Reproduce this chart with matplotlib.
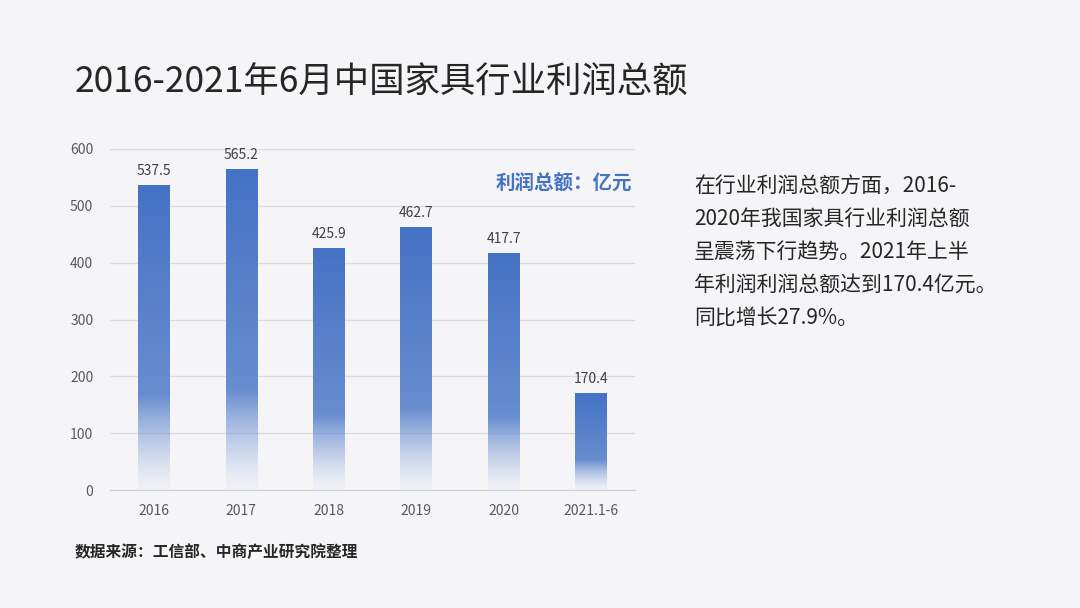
import numpy as np
import matplotlib.pyplot as plt
from matplotlib.colors import to_rgb

plt.rcParams['font.family'] = ['Noto Sans CJK SC', 'DejaVu Sans']

categories = ["2016", "2017", "2018", "2019", "2020", "2021.1-6"]
profits = [537.5, 565.2, 425.9, 462.7, 417.7, 170.4]
yticks = [0, 100, 200, 300, 400, 500, 600]

bg = "#F5F5F8"
blue = "#4472C4"

fig = plt.figure(figsize=(10.8, 6.08), dpi=100, facecolor=bg)
ax = fig.add_axes([110 / 1080, 1 - 490 / 608, 525 / 1080, 341 / 608], facecolor=bg)

x = np.arange(len(categories))
bars = ax.bar(x, profits, width=0.36, color="none", edgecolor="none", zorder=3)

# vertical gradient: solid at top, fading out toward the bottom
n = 256
t = np.linspace(0, 1, n)  # 0 = bottom, 1 = top
alpha = np.clip(0.04 + (t / 0.32) ** 1.3, 0, 1)
shade = (1 - t) * 0.28  # slightly lighter toward the bottom
rgb = np.array(to_rgb(blue))
img = np.zeros((n, 1, 4))
img[:, 0, :3] = rgb + (1 - rgb) * shade[:, None]
img[:, 0, 3] = alpha

for b in bars:
    x0, w, h = b.get_x(), b.get_width(), b.get_height()
    im = ax.imshow(img, extent=(x0, x0 + w, 0, h), origin="lower",
                   aspect="auto", zorder=3, interpolation="bilinear")
    im.set_clip_path(b)
    ax.text(x0 + w / 2, h + 12, f"{h:.1f}", ha="center", va="bottom",
            fontsize=10, color="#404040", zorder=4)

ax.set_xlim(-0.5, len(categories) - 0.5)
ax.set_ylim(0, 600)
ax.set_yticks(yticks)
ax.set_xticks(x)
ax.set_xticklabels(categories)
ax.tick_params(axis="both", length=0, labelsize=10, colors="#595959")
ax.tick_params(axis="x", pad=10)
ax.tick_params(axis="y", pad=12)
ax.grid(axis="y", color="#DCDCE0", linewidth=1, zorder=0)
for s in ["top", "right", "left"]:
    ax.spines[s].set_visible(False)
ax.spines["bottom"].set_color("#D0D0D4")

fig.text(75 / 1080, 1 - 83 / 608, "2016-2021年6月中国家具行业利润总额",
         fontsize=25.5, color="#262626", va="center", ha="left")
fig.text(632 / 1080, 1 - 183 / 608, "利润总额：亿元", fontsize=14,
         fontweight="bold", color=blue, va="center", ha="right")

body = ["在行业利润总额方面，2016-",
        "2020年我国家具行业利润总额",
        "呈震荡下行趋势。2021年上半",
        "年利润利润总额达到170.4亿元。",
        "同比增长27.9%。"]
for i, line in enumerate(body):
    fig.text(694 / 1080, 1 - (187 + 32.7 * i) / 608, line, fontsize=15,
             color="#262626", va="center", ha="left")

fig.text(75 / 1080, 1 - 552 / 608, "数据来源：工信部、中商产业研究院整理",
         fontsize=11.3, fontweight="bold", color="#262626", va="center", ha="left")

fig.savefig("out.png", dpi=100, facecolor=bg)
